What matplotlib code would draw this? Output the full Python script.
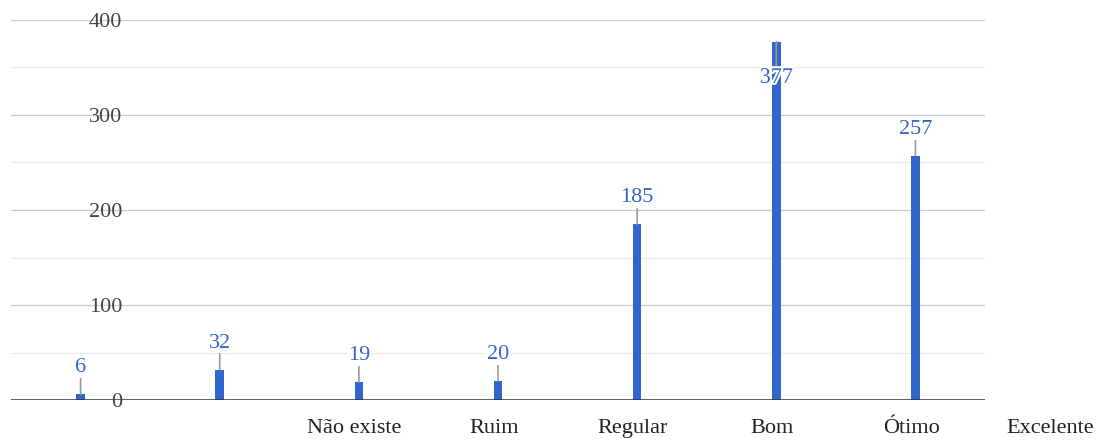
import numpy as np
import matplotlib
matplotlib.use("Agg")
import matplotlib.pyplot as plt
import matplotlib.transforms as mtransforms
import matplotlib.patheffects as pe

plt.rcParams['font.family'] = ['Liberation Serif', 'DejaVu Serif']

values = [6, 32, 19, 20, 185, 377, 257]
x_labels = ["Não existe", "Ruim", "Regular", "Bom", "Ótimo", "Excelente"]
label_start = 2  # the category labels sit two slots to the right
y_ticks = [0, 100, 200, 300, 400]
y_minor = [50, 150, 250, 350]

blue = '#3366cc'

fig = plt.figure(figsize=(10.96, 4.4), dpi=100)
ax = fig.add_axes([11 / 1096, 40 / 440, 974 / 1096, 380 / 440])

xs = np.arange(len(values))
ax.set_xlim(-0.5, len(values) - 0.5)
ax.set_ylim(0, 400)

for y in y_ticks[1:]:
    ax.axhline(y, color='#cccccc', lw=0.9, zorder=0)
for y in y_minor:
    ax.axhline(y, color='#ebebeb', lw=0.9, zorder=0)

ax.bar(xs, values, width=0.062, color=blue, zorder=2)
ax.axhline(0, color='#333333', lw=1.8, zorder=3)

# y tick labels drawn on top of the grid lines
tr = mtransforms.blended_transform_factory(ax.transAxes, ax.transData)
for y in y_ticks:
    ax.text(0.114, y, str(y), transform=tr, ha='right', va='center_baseline',
            fontsize=16, color='#444444', zorder=4)

# category labels
for i, lab in enumerate(x_labels):
    ax.text(label_start + i - 0.03, 0, lab, ha='center', va='top',
            fontsize=16, color='#222222', zorder=4,
            transform=ax.transData + mtransforms.ScaledTranslation(0, -19 / 100, fig.dpi_scale_trans),
            clip_on=False)

# data labels with leader lines
for x, v in zip(xs, values):
    if v > 350:
        off = -34
        kw = dict(path_effects=[pe.withStroke(linewidth=3, foreground='white')])
    else:
        off = 29
        kw = dict(bbox=dict(facecolor='white', edgecolor='none', pad=0.5))
    ax.annotate(str(v), xy=(x, v), xytext=(0, off * 72 / 100), textcoords='offset points',
                ha='center', va='center_baseline', fontsize=16, color=blue, zorder=5,
                arrowprops=dict(arrowstyle='-', color='#999999', lw=1.2, patchA=None,
                                shrinkA=0, shrinkB=0), **kw)

for s in ax.spines.values():
    s.set_visible(False)
ax.set_xticks([])
ax.set_yticks([])

fig.savefig('out.png', dpi=100, facecolor='white')
